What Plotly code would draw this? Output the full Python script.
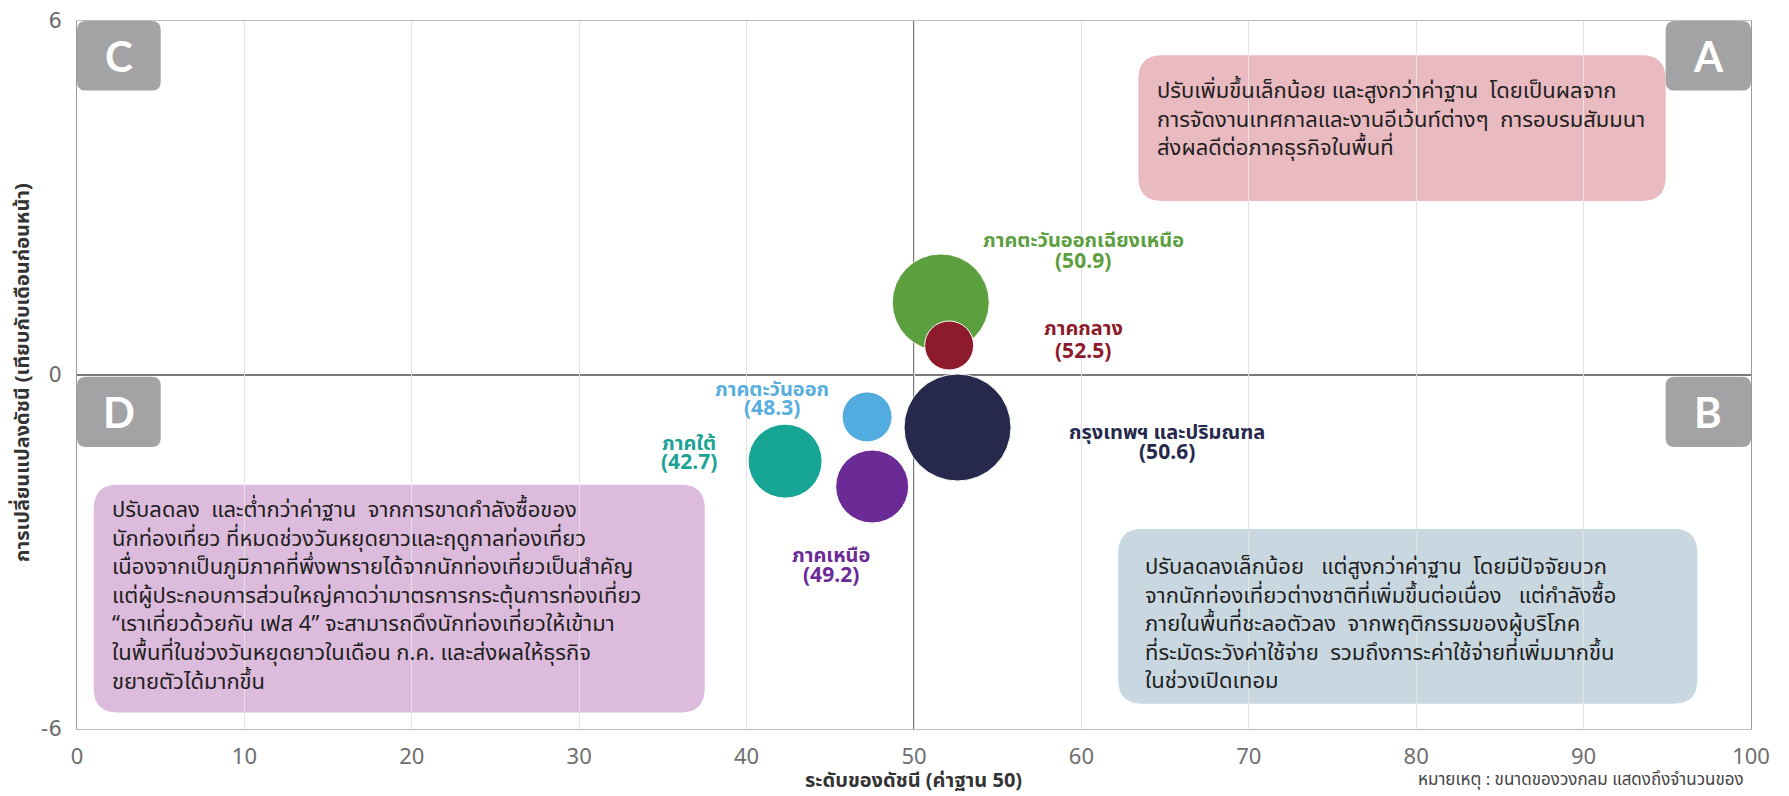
import plotly.graph_objects as go

# ---------------- data ----------------
regions = ["ภาคตะวันออกเฉียงเหนือ", "ภาคกลาง", "กรุงเทพฯ และปริมณฑล",
           "ภาคตะวันออก", "ภาคใต้", "ภาคเหนือ"]
index_level = [51.6, 52.1, 52.6, 47.2, 42.3, 47.5]      # x position
index_change = [1.23, 0.50, -0.89, -0.71, -1.46, -1.89]  # y position
index_label = ["50.9", "52.5", "50.6", "48.3", "42.7", "49.2"]
bubble_size = [97, 49, 107, 50, 74, 73]
colors = ["#5c9f3e", "#8e1b2c", "#26294b", "#52ace0", "#17a595", "#6b2b97"]
label_colors = ["#5c9f3e", "#8e1b2c", "#26294b", "#58aedc", "#1ba394", "#6b2b97"]

x_ticks = [0, 10, 20, 30, 40, 50, 60, 70, 80, 90, 100]
y_ticks = [-6, 0, 6]
y_ticktext = ["-6", "0", "6"]

FONT = "Noto Sans Thai, Noto Sans, DejaVu Sans, sans-serif"
TICKFONT = "Noto Sans, Lato, sans-serif"
YTICKFONT = "DejaVu Sans, Noto Sans, sans-serif"

fig = go.Figure()
fig.add_trace(go.Scatter(
    x=index_level, y=index_change, mode="markers",
    marker=dict(size=bubble_size, sizemode="diameter", color=colors,
                opacity=1, line=dict(color="white", width=1)),
    text=regions, hoverinfo="text", showlegend=False, cliponaxis=False))

# ---------------- layout helpers ----------------
XS = 16.74  # px per x unit
YS = 59.05  # px per y unit


def dx(xw):  # window pixel x -> data x
    return (xw - 77) / XS


def dy(yw):  # window pixel y -> data y
    return (375 - yw) / YS


def rrect(x0, y0, x1, y1, r):
    rx, ry = r / XS, r / YS
    return (f"M {x0+rx},{y0} L {x1-rx},{y0} Q {x1},{y0} {x1},{y0-ry} "
            f"L {x1},{y1+ry} Q {x1},{y1} {x1-rx},{y1} "
            f"L {x0+rx},{y1} Q {x0},{y1} {x0},{y1+ry} "
            f"L {x0},{y0-ry} Q {x0},{y0} {x0+rx},{y0} Z")


shapes = []
shapes.append(dict(type="path", path=rrect(63.4, 5.42, 94.9, 2.95, 24),
                   fillcolor="#e9bac0", line=dict(width=0), layer="below"))
shapes.append(dict(type="path", path=rrect(1.0, -1.86, 37.5, -5.72, 24),
                   fillcolor="#ddbbdc", line=dict(width=0), layer="below"))
shapes.append(dict(type="path", path=rrect(62.2, -2.61, 96.8, -5.57, 24),
                   fillcolor="#c9d7e1", line=dict(width=0), layer="below"))
tags = [("C", 0, 5.0, 6, 4.82), ("A", 94.9, 100, 6, 4.82),
        ("D", 0, 5.0, -0.03, -1.22), ("B", 94.9, 100, -0.03, -1.22)]
for t, a, b, c, d in tags:
    shapes.append(dict(type="path", path=rrect(a, c, b, d, 9),
                       fillcolor="#a3a3a6", line=dict(width=0), layer="above"))
shapes.append(dict(type="line", x0=50, x1=50, y0=-6, y1=6, xref="x", yref="y",
                   line=dict(color="#7a7a7a", width=2), layer="below"))
shapes.append(dict(type="line", x0=0, x1=100, y0=0, y1=0, xref="x", yref="y",
                   line=dict(color="#7a7a7a", width=2), layer="below"))

annotations = []
for t, a, b, c, d in tags:
    annotations.append(dict(x=(a + b) / 2, y=(c + d) / 2, text=f"<b>{t}</b>",
                            showarrow=False, font=dict(size=42, color="white",
                                                       family="Lato, Noto Sans, sans-serif")))

# label anchor positions in window pixels: (x centre, name y, number y)
label_px = [(1083, 241, 261), (1083, 329, 351), (1167, 433, 453),
            (772, 390, 409), (689, 444, 463), (831, 556, 576)]
for name, lab, col, (lx, ny, vy) in zip(regions, index_label, label_colors, label_px):
    annotations.append(dict(x=dx(lx), y=dy(ny), text=f"<b>{name}</b>",
                            showarrow=False, xanchor="center", yanchor="middle",
                            font=dict(size=20, color=col, family=FONT)))
    annotations.append(dict(x=dx(lx), y=dy(vy), text=f"<b>({lab})</b>",
                            showarrow=False, xanchor="center", yanchor="middle",
                            font=dict(size=21, color=col, family=FONT)))

text_a = ("ปรับเพิ่มขึ้นเล็กน้อย และสูงกว่าค่าฐาน  โดยเป็นผลจาก<br>"
          "การจัดงานเทศกาลและงานอีเว้นท์ต่างๆ  การอบรมสัมมนา<br>"
          "ส่งผลดีต่อภาคธุรกิจในพื้นที่")
text_d = ("ปรับลดลง  และต่ำกว่าค่าฐาน  จากการขาดกำลังซื้อของ<br>"
          "นักท่องเที่ยว ที่หมดช่วงวันหยุดยาวและฤดูกาลท่องเที่ยว<br>"
          "เนื่องจากเป็นภูมิภาคที่พึ่งพารายได้จากนักท่องเที่ยวเป็นสำคัญ<br>"
          "แต่ผู้ประกอบการส่วนใหญ่คาดว่ามาตรการกระตุ้นการท่องเที่ยว<br>"
          "“เราเที่ยวด้วยกัน เฟส 4” จะสามารถดึงนักท่องเที่ยวให้เข้ามา<br>"
          "ในพื้นที่ในช่วงวันหยุดยาวในเดือน ก.ค. และส่งผลให้ธุรกิจ<br>"
          "ขยายตัวได้มากขึ้น")
text_b = ("ปรับลดลงเล็กน้อย   แต่สูงกว่าค่าฐาน  โดยมีปัจจัยบวก<br>"
          "จากนักท่องเที่ยวต่างชาติที่เพิ่มขึ้นต่อเนื่อง   แต่กำลังซื้อ<br>"
          "ภายในพื้นที่ชะลอตัวลง  จากพฤติกรรมของผู้บริโภค<br>"
          "ที่ระมัดระวังค่าใช้จ่าย  รวมถึงการะค่าใช้จ่ายที่เพิ่มมากขึ้น<br>"
          "ในช่วงเปิดเทอม")
for txt, x, y in [(text_a, 64.4, 4.32), (text_d, 2.0, -3.76), (text_b, 63.7, -4.23)]:
    annotations.append(dict(x=x, y=y, text=txt, showarrow=False, xanchor="left",
                            yanchor="middle", align="left",
                            font=dict(size=22, color="#1f1f1f", family=FONT)))

# The page body adds an 8px offset, so the figure is sized to fit inside the window.
OFF = 8
W, H = 1789 - OFF, 796 - OFF
L, R, T, B = 77 - OFF, 38, 21 - OFF, 67
pw, ph = W - L - R, H - T - B


def px(xw):  # window x -> paper
    return (xw - OFF - L) / pw


def py(yw):  # window y -> paper
    return (H - B - (yw - OFF)) / ph


annotations.append(dict(xref="paper", yref="paper", x=px(913), y=py(781),
                        xanchor="center", yanchor="middle", showarrow=False,
                        text="<b>ระดับของดัชนี (ค่าฐาน 50)</b>",
                        font=dict(size=20, color="#333", family=FONT)))
annotations.append(dict(xref="paper", yref="paper", x=px(23), y=py(373),
                        xanchor="center", yanchor="middle", showarrow=False, textangle=-90,
                        text="<b>การเปลี่ยนแปลงดัชนี (เทียบกับเดือนก่อนหน้า)</b>",
                        font=dict(size=20, color="#333", family=FONT)))
annotations.append(dict(xref="paper", yref="paper", x=px(1746), y=py(795),
                        xanchor="right", yanchor="bottom", showarrow=False,
                        text="หมายเหตุ : ขนาดของวงกลม แสดงถึงจำนวนของ",
                        font=dict(size=17, color="#444", family=FONT)))

fig.update_layout(
    width=W, height=H,
    margin=dict(l=L, r=R, t=T, b=B),
    paper_bgcolor="white", plot_bgcolor="white",
    font=dict(family=FONT),
    shapes=shapes, annotations=annotations,
    xaxis=dict(range=[0, 100], tickvals=x_ticks, showgrid=True, gridcolor="#e2e2e2",
               gridwidth=1, zeroline=False, showline=True, linecolor="#bdbdbd",
               mirror=True, ticks="", automargin=False, ticklabelstandoff=8,
               ticklabeloverflow="allow",
               tickfont=dict(size=22, color="#6e6e6e", family=TICKFONT)),
    yaxis=dict(range=[-6, 6], tickvals=y_ticks, ticktext=y_ticktext, showgrid=False,
               zeroline=False, showline=True, linecolor="#9a9a9a", mirror=True, ticks="",
               automargin=False, ticklabelstandoff=10, ticklabeloverflow="allow",
               tickfont=dict(size=21, color="#6e6e6e", family=YTICKFONT)),
)

fig.write_html("out.html")
